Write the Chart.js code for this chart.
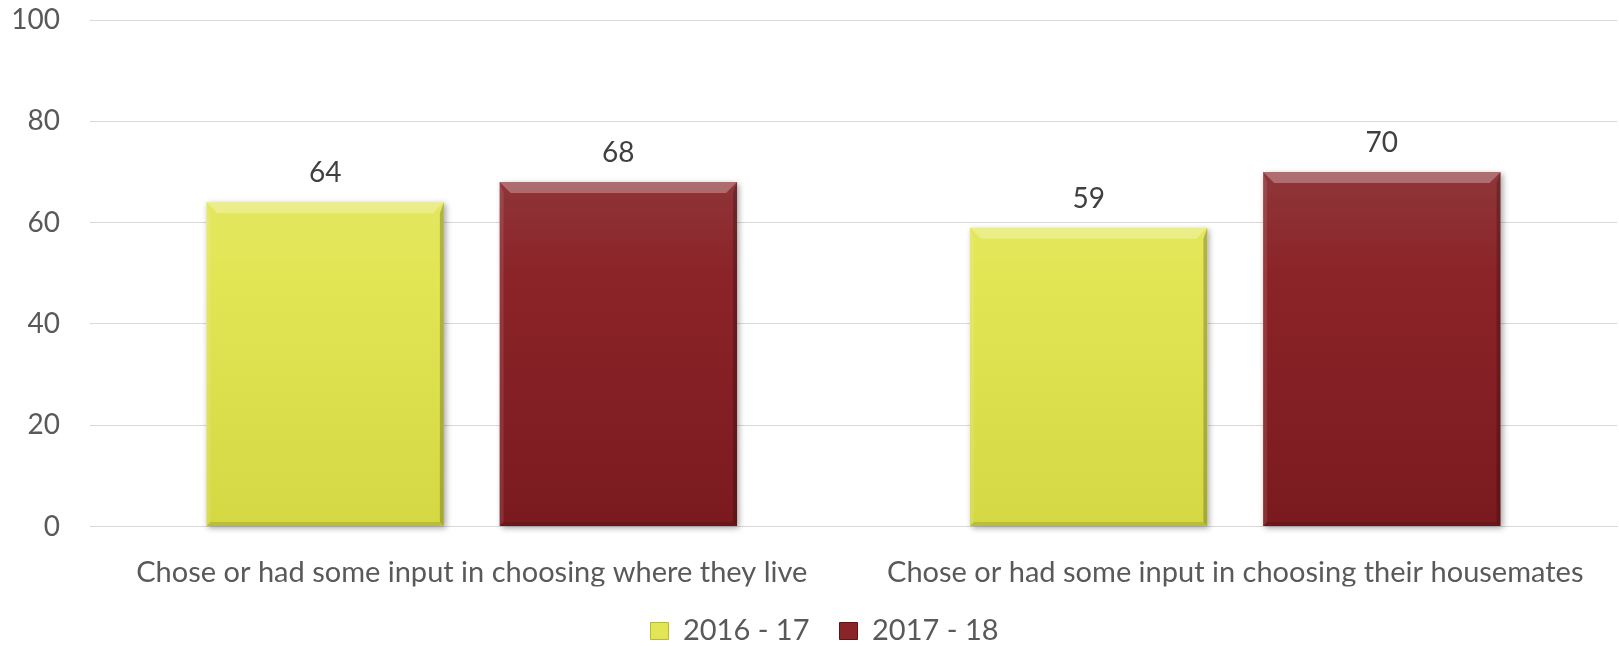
<!DOCTYPE html>
<html>
<head>
<meta charset="utf-8">
<script src="https://cdn.jsdelivr.net/npm/chart.js@4/dist/chart.umd.min.js"></script>
<style>
  html, body { margin:0; padding:0; background:#fff; }
  #wrap { width:1619px; height:646px; }
</style>
</head>
<body>
<div id="wrap"><canvas id="barChart" width="1619" height="646"></canvas></div>
<script>
const categories = ["Chose or had some input in choosing where they live", "Chose or had some input in choosing their housemates"];
const seriesNames = ["2016 - 17", "2017 - 18"];
const values1617 = [64, 59];
const values1718 = [68, 70];
const yTicks = [0, 20, 40, 60, 80, 100];

const FONT = "Lato, 'Open Sans', sans-serif";

const yellow = ["#e4e777", "#e2e655", "#d3d843"];
const red = ["#955253", "#8b2429", "#7a1a1f"];

// vertical gradient per bar, light top -> dark bottom
function barFill(stops) {
    return function(ctx) {
        const area = ctx.chart.chartArea;
        if (!area) return stops[1];
        const el = ctx.element;
        const top = el && el.y != null ? el.y : area.top;
        const bottom = el && el.base != null ? el.base : area.bottom;
        const g = ctx.chart.ctx.createLinearGradient(0, top, 0, bottom);
        g.addColorStop(0, stops[0]);
        g.addColorStop(0.5, stops[1]);
        g.addColorStop(1, stops[2]);
        return g;
    };
}

function barBox(bar) {
    const w = bar.width;
    return { l: bar.x - w / 2, r: bar.x + w / 2, t: bar.y, b: bar.base };
}

// soft shadow behind bars + bevel edges on top + value labels
const barExtras = {
    id: "barExtras",
    afterLayout(chart) {
        // legend sits a bit right of the canvas centre in the original
        chart.legend.left += 16;
        chart.legend.right += 16;
    },
    beforeDatasetsDraw(chart) {
        const c = chart.ctx;
        c.save();
        c.shadowColor = "rgba(0,0,0,0.35)";
        c.shadowBlur = 6;
        c.shadowOffsetX = 2;
        c.shadowOffsetY = 2;
        c.fillStyle = "#ffffff";
        chart.data.datasets.forEach((ds, i) => {
            chart.getDatasetMeta(i).data.forEach(bar => {
                const k = barBox(bar);
                c.fillRect(k.l, k.t, k.r - k.l, k.b - k.t);
            });
        });
        c.restore();
    },
    afterDatasetsDraw(chart) {
        const c = chart.ctx;
        c.save();
        chart.data.datasets.forEach((ds, i) => {
            chart.getDatasetMeta(i).data.forEach(bar => {
                const k = barBox(bar);
                const bv = 11, sd = 4;
                // top bevel
                c.fillStyle = "rgba(255,255,255,0.28)";
                c.beginPath();
                c.moveTo(k.l, k.t); c.lineTo(k.r, k.t);
                c.lineTo(k.r - bv, k.t + bv); c.lineTo(k.l + bv, k.t + bv);
                c.closePath(); c.fill();
                // left edge
                c.fillStyle = "rgba(255,255,255,0.10)";
                c.beginPath();
                c.moveTo(k.l, k.t); c.lineTo(k.l + sd, k.t + bv);
                c.lineTo(k.l + sd, k.b - sd); c.lineTo(k.l, k.b);
                c.closePath(); c.fill();
                // right edge
                c.fillStyle = "rgba(0,0,0,0.22)";
                c.beginPath();
                c.moveTo(k.r, k.t); c.lineTo(k.r - sd, k.t + bv);
                c.lineTo(k.r - sd, k.b - sd); c.lineTo(k.r, k.b);
                c.closePath(); c.fill();
                // bottom edge
                c.fillStyle = "rgba(0,0,0,0.12)";
                c.beginPath();
                c.moveTo(k.l, k.b); c.lineTo(k.l + sd, k.b - sd);
                c.lineTo(k.r - sd, k.b - sd); c.lineTo(k.r, k.b);
                c.closePath(); c.fill();
            });
        });
        c.font = "28px " + FONT;
        c.fillStyle = "#404040";
        c.textAlign = "center";
        c.textBaseline = "alphabetic";
        chart.data.datasets.forEach((ds, i) => {
            chart.getDatasetMeta(i).data.forEach((bar, j) => {
                c.fillText(ds.data[j], bar.x, bar.y - 20);
            });
        });
        c.restore();
    }
};

new Chart(document.getElementById("barChart"), {
    type: "bar",
    data: {
        labels: categories,
        datasets: [{
            label: seriesNames[0],
            data: values1617,
            backgroundColor: barFill(yellow),
            borderWidth: 0,
            legendColor: yellow[1],
            legendBorder: "#b5b935"
        }, {
            label: seriesNames[1],
            data: values1718,
            backgroundColor: barFill(red),
            borderWidth: 0,
            legendColor: red[1],
            legendBorder: "#5e1417"
        }]
    },
    options: {
        responsive: false,
        animation: false,
        categoryPercentage: 0.768,
        barPercentage: 0.81,
        layout: { padding: { left: 0, right: 2, top: 20, bottom: 0 } },
        scales: {
            x: {
                grid: { display: false },
                border: { color: "#d9d9d9", width: 1 },
                ticks: { color: "#595959", font: { family: FONT, size: 29 }, padding: 21 },
                afterFit(axis) {
                    axis.height = 60;
                    axis.paddingLeft = 0;
                    axis.paddingRight = 0;
                }
            },
            y: {
                min: 0,
                max: 100,
                afterBuildTicks(axis) { axis.ticks = yTicks.map(v => ({ value: v })); },
                grid: { color: "#d9d9d9", lineWidth: 1, drawTicks: false },
                border: { display: false },
                ticks: { color: "#595959", font: { family: FONT, size: 28 }, padding: 30 },
                afterFit(axis) {
                    axis.width = 90;
                    axis.paddingTop = 0;
                    axis.paddingBottom = 0;
                }
            }
        },
        plugins: {
            tooltip: { enabled: false },
            legend: {
                position: "bottom",
                maxHeight: 59.5,
                labels: {
                    color: "#595959",
                    font: { family: FONT, size: 29 },
                    boxWidth: 18,
                    boxHeight: 17,
                    padding: 30,
                    generateLabels(chart) {
                        return chart.data.datasets.map((ds, i) => ({
                            text: ds.label,
                            fillStyle: ds.legendColor,
                            strokeStyle: ds.legendBorder,
                            lineWidth: 1,
                            fontColor: "#595959",
                            datasetIndex: i
                        }));
                    }
                }
            }
        }
    },
    plugins: [barExtras]
});
</script>
</body>
</html>
